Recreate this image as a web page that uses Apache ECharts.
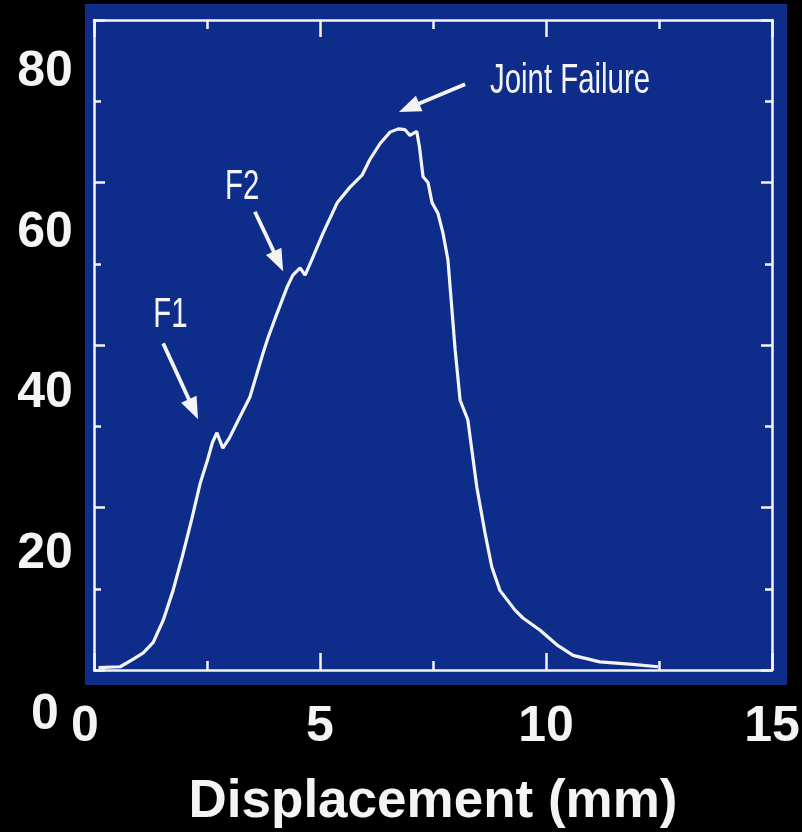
<!DOCTYPE html>
<html lang="en">
<head>
    <meta charset="UTF-8">
    <title>Joint load vs displacement</title>
    <script src="https://cdn.jsdelivr.net/npm/echarts@6/dist/echarts.min.js"></script>
    <style>
        html, body { margin: 0; padding: 0; background: #000; }
    </style>
</head>
<body>
    <div id="chart" style="width: 802px; height: 832px;"></div>

    <script>
// load-displacement curve
const displacement = [0.1, 0.58, 0.86, 1.09, 1.31, 1.53, 1.75, 1.96, 2.16, 2.35, 2.52, 2.62, 2.72, 2.85, 3.0,
    3.16, 3.45, 3.74, 3.85, 4.05, 4.27, 4.40, 4.56, 4.67, 4.82, 5.07, 5.38, 5.66, 5.93, 6.10, 6.33, 6.55,
    6.73, 6.88, 6.99, 7.14, 7.20, 7.28, 7.39, 7.48, 7.61, 7.72, 7.83, 7.99, 8.10, 8.27, 8.47, 8.65, 8.80,
    8.98, 9.31, 9.49, 9.87, 10.24, 10.6, 11.19, 11.92, 12.48];
const load = [0.3, 0.4, 1.3, 2.1, 3.4, 6.1, 9.8, 14.1, 18.5, 23.0, 26.0, 28.0, 29.2, 27.3, 28.6,
    30.4, 33.6, 39.0, 40.9, 43.9, 47.1, 48.6, 49.5, 48.6, 50.5, 53.8, 57.5, 59.4, 60.9, 62.8, 64.8, 66.2,
    66.6, 66.5, 65.8, 66.3, 64.4, 60.7, 60.0, 57.5, 56.2, 53.8, 50.5, 39.4, 33.2, 30.8, 22.5, 16.9, 12.7,
    9.8, 7.4, 6.4, 4.9, 3.1, 1.8, 1.0, 0.7, 0.4];

const xTicks = [0, 5, 10, 15];
const yTicks = [0, 20, 40, 60, 80];

// annotation arrows [tail, head] and texts, in data units
const arrows = [
    [[1.53, 40.2], [2.20, 32.1]],
    [[3.56, 56.4], [4.08, 50.3]],
    [[8.21, 72.1], [6.97, 69.2]]
];
const notes = [
    { text: 'F1', x: 1.31, y: 43.7 },
    { text: 'F2', x: 2.90, y: 59.4 },
    { text: 'Joint Failure', x: 8.76, y: 72.5 }
];

const WHITE = '#f4f4f4';
const FONT = '"Liberation Sans", Arial, sans-serif';

const chart = echarts.init(document.getElementById('chart'));

function frameAxis(extra) {
    return Object.assign({
        type: 'value',
        gridIndex: 0,
        axisLine: { show: true, onZero: false, lineStyle: { color: WHITE, width: 2.5 } },
        axisTick: { show: true, inside: true, lineStyle: { color: WHITE, width: 2.5 } },
        minorTick: { show: true, splitNumber: 2, lineStyle: { color: WHITE, width: 2.5 } },
        splitLine: { show: false },
        axisLabel: { show: false }
    }, extra);
}

const option = {
    backgroundColor: '#000',
    animation: false,
    grid: [
        { left: 94, top: 20, width: 678, height: 650, outerBoundsMode: 'none' },
        { left: 94, top: 72, width: 678, height: 643, outerBoundsMode: 'none' },
        {
            left: 85, top: 4, width: 702, height: 681, outerBoundsMode: 'none',
            show: true, backgroundColor: '#0e2d8a', borderWidth: 0, z: -1
        }
    ],
    xAxis: [
        frameAxis({
            min: 0, max: 15, interval: 5, position: 'bottom',
            axisTick: { show: true, inside: true, length: 17, lineStyle: { color: WHITE, width: 2.5 } },
            minorTick: { show: true, splitNumber: 2, length: 9, lineStyle: { color: WHITE, width: 2.5 } },
            axisLabel: {
                show: true, color: WHITE, fontSize: 50, fontWeight: 'bold', fontFamily: FONT, margin: 32,
                // the "0" sits a little left of its tick on the slide
                formatter: v => v === 0 ? '{z|0}' : (xTicks.includes(v) ? String(v) : ''),
                rich: { z: { color: WHITE, fontSize: 50, fontWeight: 'bold', fontFamily: FONT, padding: [0, 18, 0, 0] } }
            },
            name: 'Displacement (mm)',
            nameLocation: 'middle',
            nameGap: 106,
            nameTextStyle: { color: WHITE, fontSize: 53, fontWeight: 'bold', fontFamily: FONT }
        }),
        frameAxis({
            min: 0, max: 15, interval: 5, position: 'top',
            axisTick: { show: true, inside: true, length: 17, lineStyle: { color: WHITE, width: 2.5 } },
            minorTick: { show: true, splitNumber: 2, length: 9, lineStyle: { color: WHITE, width: 2.5 } }
        }),
        { type: 'value', gridIndex: 1, min: 0, max: 15, show: false },
        { type: 'value', gridIndex: 2, min: 0, max: 1, show: false }
    ],
    yAxis: [
        frameAxis({
            min: 0, max: 80, interval: 20, position: 'left',
            axisTick: { show: true, inside: true, length: 11, lineStyle: { color: WHITE, width: 2.5 } },
            minorTick: { show: true, splitNumber: 2, length: 7, lineStyle: { color: WHITE, width: 2.5 } }
        }),
        frameAxis({
            min: 0, max: 80, interval: 20, position: 'right',
            axisTick: { show: true, inside: true, length: 11, lineStyle: { color: WHITE, width: 2.5 } },
            minorTick: { show: true, splitNumber: 2, length: 7, lineStyle: { color: WHITE, width: 2.5 } }
        }),
        {
            // the slide's printed load labels sit lower than the frame ticks
            type: 'value', gridIndex: 1, min: 0, max: 80, interval: 20, position: 'left',
            axisLine: { show: false }, axisTick: { show: false }, splitLine: { show: false },
            axisLabel: {
                show: true, color: WHITE, fontSize: 50, fontWeight: 'bold', fontFamily: FONT,
                align: 'center', margin: 49,
                formatter: v => yTicks.includes(v) ? String(v) : ''
            }
        },
        { type: 'value', gridIndex: 2, min: 0, max: 1, show: false }
    ],
    series: [
        {
            type: 'line',
            xAxisIndex: 0,
            yAxisIndex: 0,
            data: displacement.map((x, i) => [x, load[i]]),
            showSymbol: false,
            lineStyle: { color: WHITE, width: 3.2 },
            markLine: {
                silent: true,
                symbol: ['none', 'triangle'],
                symbolSize: [17, 22],
                label: { show: false },
                lineStyle: { color: WHITE, width: 3.8, type: 'solid' },
                data: arrows.map(a => [{ coord: a[0] }, { coord: a[1] }])
            }
        }
    ]
};

chart.setOption(option);

// put the annotation texts where their data points land
chart.setOption({
    graphic: notes.map(n => {
        const p = chart.convertToPixel({ xAxisIndex: 0, yAxisIndex: 0 }, [n.x, n.y]);
        return {
            type: 'text',
            x: p[0],
            y: p[1],
            scaleX: 0.7,
            style: {
                text: n.text,
                x: 0, y: 0,
                fill: WHITE,
                font: '42px "Liberation Sans Narrow", "Liberation Sans", sans-serif',
                align: 'left',
                verticalAlign: 'middle'
            }
        };
    })
});
    </script>
</body>
</html>
